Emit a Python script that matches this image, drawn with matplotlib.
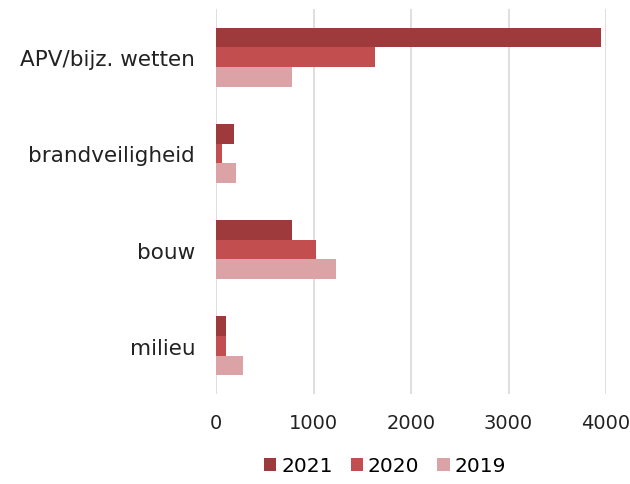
import numpy as np
import matplotlib
matplotlib.use("Agg")
import matplotlib.pyplot as plt

categories = ["APV/bijz. wetten", "brandveiligheid", "bouw", "milieu"]
years = ["2021", "2020", "2019"]
values_2021 = [3950, 180, 780, 105]
values_2020 = [1630, 60, 1025, 100]
values_2019 = [780, 205, 1230, 275]
colors = ["#9E3A3B", "#C24E50", "#DBA3A6"]

plt.rcParams["font.family"] = "DejaVu Sans"

fig = plt.figure(figsize=(6.3, 4.85), dpi=100)
ax = fig.add_axes([216 / 630, 1 - 395 / 485, 390 / 630, 385 / 485])

y = np.arange(len(categories))
h = 0.205
series = [values_2021, values_2020, values_2019]
for i, (vals, col, lab) in enumerate(zip(series, colors, years)):
    ax.barh(y + (i - 1) * h, vals, height=h, color=col, label=lab)

ax.set_ylim(3.5, -0.5)
ax.set_xlim(0, 4000)
ax.set_xticks([0, 1000, 2000, 3000, 4000])
ax.set_yticks(y)
ax.set_yticklabels(categories)
ax.tick_params(axis="both", length=0, colors="#222222")
ax.tick_params(axis="y", pad=15, labelsize=15.5)
ax.tick_params(axis="x", pad=14, labelsize=14)
for s in ax.spines.values():
    s.set_visible(False)
ax.grid(axis="x", color="#D9D9D9", linewidth=1.2)
ax.set_axisbelow(True)

fig.legend(loc="center", bbox_to_anchor=(385 / 630, 1 - 467 / 485), ncol=3,
           frameon=False, fontsize=14.5, handlelength=0.6, handleheight=0.6,
           handletextpad=0.25, columnspacing=0.9)

fig.savefig("out.png", dpi=100)
